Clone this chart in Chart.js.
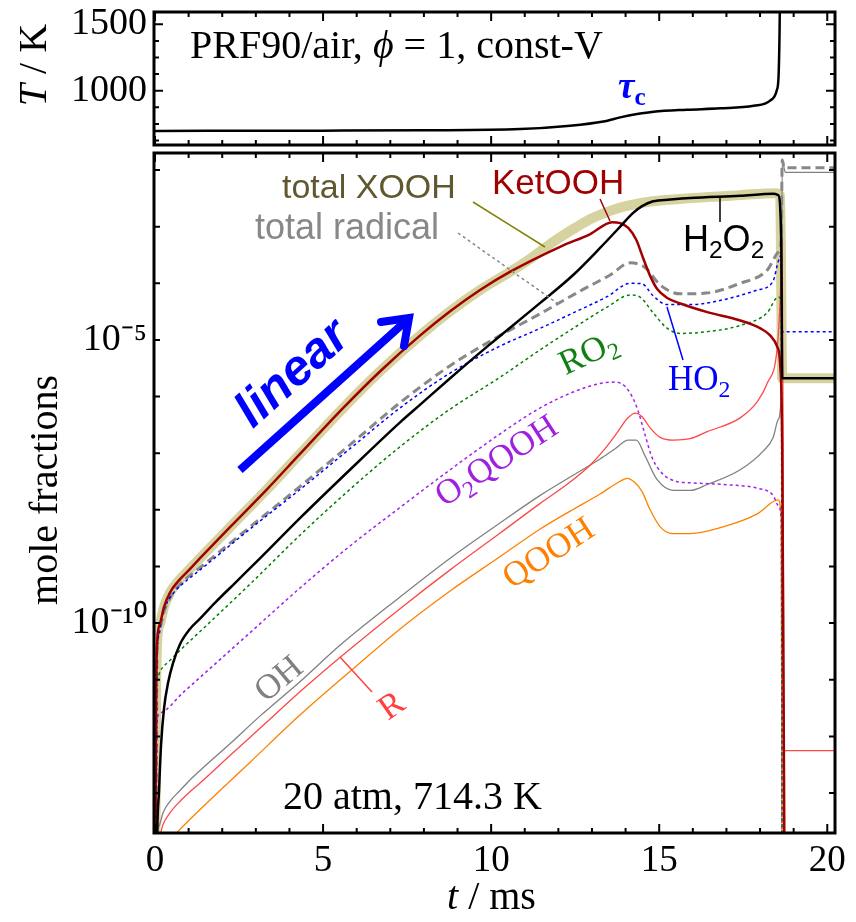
<!DOCTYPE html>
<html>
<head>
<meta charset="utf-8">
<script src="https://cdn.jsdelivr.net/npm/chart.js@4.4.0/dist/chart.umd.min.js"></script>
<style>
  html, body { margin: 0; padding: 0; background: #fff; }
  #wrap { position: relative; width: 856px; height: 922px; overflow: hidden; background: #fff; }
  canvas { position: absolute; left: 0; top: 0; }
  svg { position: absolute; left: 0; top: 0; }
  .lbl { position: absolute; white-space: nowrap; line-height: 1; }
  .serif { font-family: 'Liberation Serif', 'Times New Roman', serif; }
  .sans { font-family: 'Liberation Sans', Arial, sans-serif; }
  .rot { transform: translate(-50%, -50%) rotate(var(--a)); }
  sub { font-size: 0.68em; vertical-align: -0.28em; line-height: 0; }
</style>
</head>
<body>
<div id="wrap">
  <canvas id="top" width="856" height="150"></canvas>
  <canvas id="main" width="856" height="922"></canvas>

  <svg width="856" height="922">
    <line x1="473" y1="202" x2="545" y2="247" stroke="#808000" stroke-width="1.5"/>
    <line x1="458" y1="233" x2="557" y2="303" stroke="#888" stroke-width="1.5" stroke-dasharray="3,3"/>
    <line x1="600" y1="199" x2="610" y2="221" stroke="#a00000" stroke-width="1.5"/>
    <line x1="720" y1="197" x2="720" y2="222" stroke="#000" stroke-width="1.5"/>
    <line x1="667" y1="307" x2="683" y2="360" stroke="#0000ff" stroke-width="1.5"/>
    <line x1="340" y1="657" x2="372" y2="692" stroke="#ff4040" stroke-width="1.5"/>
    <line x1="240" y1="470" x2="406" y2="321" stroke="#0000ff" stroke-width="8"/>
    <polyline points="381,322 409,318 404,346" fill="none" stroke="#0000ff" stroke-width="8" stroke-linecap="round"/>
  </svg>

  <div class="lbl serif" style="left:190px;top:25px;font-size:40px;">PRF90/air, <i>ϕ</i> = 1, const-V</div>
  <div class="lbl serif" style="left:618px;top:67px;font-size:37px;color:#0000ff;font-weight:bold;"><i>τ</i><sub style="font-style:normal">c</sub></div>
  <div class="lbl serif rot" style="left:33px;top:65px;font-size:40px;--a:-90deg;"><i>T</i> / K</div>
  <div class="lbl serif rot" style="left:44px;top:490px;font-size:40px;--a:-90deg;">mole fractions</div>
  <div class="lbl serif" style="left:447px;top:876px;font-size:40px;"><i>t</i> / ms</div>
  <div class="lbl serif" style="left:283px;top:776px;font-size:40px;">20 atm, 714.3 K</div>

  <div class="lbl sans" style="left:282px;top:169px;font-size:34px;color:#61582f;">total XOOH</div>
  <div class="lbl sans" style="left:492px;top:164px;font-size:35px;color:#a00000;">KetOOH</div>
  <div class="lbl sans" style="left:255px;top:209px;font-size:36px;color:#888;">total radical</div>
  <div class="lbl sans" style="left:683px;top:221px;font-size:36px;color:#000;">H<sub>2</sub>O<sub>2</sub></div>
  <div class="lbl sans rot" style="left:291px;top:372px;font-size:50px;color:#0000ff;font-weight:bold;font-style:italic;--a:-42deg;">linear</div>

  <div class="lbl serif" style="left:668px;top:361px;font-size:35px;color:#0000ff;">HO<sub>2</sub></div>
  <div class="lbl serif rot" style="left:588px;top:352px;font-size:35px;color:#108010;--a:-25deg;">RO<sub>2</sub></div>
  <div class="lbl serif rot" style="left:496px;top:460px;font-size:35px;color:#a020e0;--a:-33deg;">O<sub>2</sub>QOOH</div>
  <div class="lbl serif rot" style="left:548px;top:552px;font-size:35px;color:#ff7f00;--a:-33deg;">QOOH</div>
  <div class="lbl serif rot" style="left:278px;top:678px;font-size:35px;color:#808080;--a:-40deg;">OH</div>
  <div class="lbl serif rot" style="left:391px;top:705px;font-size:35px;color:#ff4040;--a:-35deg;">R</div>
</div>

<script>
// temperature, top panel
const tempT = [0, 5, 8, 10.86, 12.35, 13.34, 13.84, 14.34, 14.83, 15.82, 16.82, 17.81, 18.3, 18.5, 18.55, 18.58, 18.6, 18.65, 20.3];
const tempK = [697, 699, 702, 711, 736, 768, 799, 824, 842, 857, 867, 887, 925, 1005, 1105, 1432, 1900, 2400, 2500];

// mole fractions, bottom panel (t in ms)
const xoohT = [0, 0.03, 0.06, 0.15, 0.27, 0.45, 0.68, 0.98, 1.34, 2.32, 3.33, 4.32, 5.6, 6.7, 7.89, 8.78, 9.67, 10.57, 11.16, 11.85, 12.5, 13.0, 13.54, 14.0, 14.8, 16.0, 17.4, 18.45, 18.6, 18.66, 20.3];
const xoohY = [1e-16, 3e-12, 4.2e-11, 9.8e-11, 1.95e-10, 3.5e-10, 5.4e-10, 8.3e-10, 1.4e-9, 5.6e-9, 2.3e-8, 9.8e-8, 6.3e-7, 2.8e-6, 1.2e-5, 3.2e-5, 7.6e-5, 1.6e-4, 2.7e-4, 5.4e-4, 9.5e-4, 1.4e-3, 1.9e-3, 2.3e-3, 2.8e-3, 3.2e-3, 3.6e-3, 3.9e-3, 3.5e-3, 2.1e-6, 2.1e-6];

const ketT = [0, 0.03, 0.06, 0.15, 0.27, 0.45, 0.68, 0.98, 1.34, 2.32, 3.33, 4.32, 5.6, 6.7, 7.89, 8.78, 9.67, 10.57, 12.05, 12.95, 13.6, 13.84, 14.08, 14.32, 14.52, 14.73, 14.94, 15.24, 15.63, 16.43, 17.41, 18.01, 18.3, 18.51, 18.6, 18.66, 18.74];
const ketY = [1e-16, 3e-12, 4.2e-11, 9.8e-11, 1.95e-10, 3.5e-10, 5.4e-10, 8.3e-10, 1.4e-9, 5.6e-9, 2.3e-8, 9.8e-8, 6.3e-7, 2.8e-6, 1.2e-5, 3.2e-5, 7.6e-5, 1.6e-4, 4.4e-4, 7.4e-4, 1.2e-3, 1.15e-3, 9.5e-4, 5.8e-4, 2.8e-4, 1.35e-4, 7.9e-5, 5.5e-5, 4.4e-5, 3.1e-5, 2.2e-5, 1.6e-5, 1.2e-5, 7.6e-6, 3.6e-6, 1.1e-7, 1e-16];

const h2o2T = [0.03, 0.06, 0.12, 0.18, 0.27, 0.39, 0.54, 0.74, 1.04, 1.34, 1.79, 2.38, 3.13, 4.32, 5.8, 7.29, 7.89, 8.78, 9.88, 11.46, 12.44, 13.24, 13.84, 14.2, 14.49, 14.82, 15.33, 15.92, 17.41, 18.39, 18.54, 18.63, 18.66, 20.3];
const h2o2Y = [1e-16, 1.2e-14, 1.1e-13, 7.1e-13, 3.2e-12, 8.9e-12, 2.0e-11, 4.2e-11, 7.9e-11, 1.2e-10, 2.3e-10, 5.1e-10, 1.4e-9, 7.2e-9, 5.1e-8, 3.5e-7, 7.2e-7, 2.1e-6, 7.6e-6, 4.5e-5, 1.4e-4, 4.2e-4, 1.0e-3, 1.7e-3, 2.3e-3, 2.8e-3, 3.0e-3, 3.2e-3, 3.5e-3, 3.8e-3, 3.6e-3, 5.8e-4, 2.1e-6, 2.1e-6];

const radT = [0.02, 0.06, 0.15, 0.27, 0.45, 0.74, 1.34, 2.83, 4.32, 5.8, 7.29, 8.78, 10.27, 11.46, 12.65, 13.54, 14.14, 14.58, 15.03, 15.63, 16.4, 17.41, 18.21, 18.54, 18.63, 18.66, 18.72, 20.3];
const radY = [1e-16, 3.4e-11, 8.7e-11, 1.6e-10, 2.8e-10, 4.8e-10, 9.5e-10, 5.0e-9, 2.6e-8, 1.4e-7, 7.8e-7, 3.5e-6, 1.2e-5, 2.9e-5, 7.3e-5, 1.4e-4, 2.3e-4, 1.9e-4, 9.3e-5, 6.5e-5, 6.7e-5, 1.0e-4, 1.7e-4, 3.5e-4, 5.8e-4, 1.5e-2, 1.1e-2, 1.1e-2];

const ho2T = [0.02, 0.06, 0.12, 0.21, 0.36, 0.6, 0.95, 1.34, 2.83, 4.32, 5.8, 7.29, 8.78, 10.27, 11.46, 12.44, 13.45, 14.14, 14.49, 14.82, 15.24, 15.92, 16.9, 17.92, 18.39, 18.54, 18.63, 18.66, 20.3];
const ho2Y = [1e-16, 2.2e-11, 6.2e-11, 1.3e-10, 2.3e-10, 3.7e-10, 5.7e-10, 8.7e-10, 4.6e-9, 2.3e-8, 1.2e-7, 6.3e-7, 2.6e-6, 7.8e-6, 1.6e-5, 3.0e-5, 5.8e-5, 1.0e-4, 9.8e-5, 6.0e-5, 4.2e-5, 4.2e-5, 5.1e-5, 7.6e-5, 1.1e-4, 2.4e-4, 3.2e-4, 1.4e-5, 1.4e-5];

const ro2T = [0.0, 0.03, 0.06, 0.15, 0.45, 0.83, 1.34, 2.83, 4.32, 5.8, 7.29, 8.78, 10.27, 11.46, 12.44, 13.45, 14.14, 14.43, 14.82, 15.24, 15.63, 16.43, 17.41, 18.21, 18.54, 18.63, 18.66];
const ro2Y = [1e-16, 6.6e-12, 1.0e-11, 1.4e-11, 2.2e-11, 3.7e-11, 7.1e-11, 4.9e-10, 3.6e-9, 2.3e-8, 1.3e-7, 6.0e-7, 2.2e-6, 6.7e-6, 1.6e-5, 3.8e-5, 6.2e-5, 5.7e-5, 3.0e-5, 1.6e-5, 1.3e-5, 1.4e-5, 1.8e-5, 3.0e-5, 5.7e-5, 5.0e-5, 1e-16];

const o2qoohT = [0.02, 0.06, 0.15, 0.83, 1.34, 2.83, 4.32, 5.8, 7.29, 8.78, 10.27, 11.46, 12.44, 13.24, 13.69, 13.99, 14.2, 14.38, 14.58, 14.79, 15.09, 15.48, 15.92, 16.9, 17.92, 18.39, 18.54, 18.63, 18.66];
const o2qoohY = [1e-16, 1.8e-12, 2.6e-12, 5.9e-12, 1.1e-11, 6.8e-11, 4.2e-10, 2.3e-9, 1.1e-8, 5.1e-8, 2.2e-7, 6.3e-7, 1.2e-6, 1.7e-6, 1.8e-6, 1.5e-6, 9.8e-7, 5.4e-7, 2.1e-7, 8.3e-8, 4.4e-8, 3.2e-8, 3.0e-8, 2.8e-8, 2.4e-8, 1.8e-8, 1.2e-8, 6.6e-9, 1e-16];

const ohT = [0.03, 0.06, 0.12, 0.24, 0.45, 0.74, 1.04, 1.34, 2.23, 3.13, 4.32, 5.51, 7.29, 8.78, 10.27, 11.46, 12.35, 13.24, 13.69, 14.08, 14.32, 14.58, 14.94, 15.42, 15.92, 16.43, 17.41, 18.1, 18.39, 18.54, 18.63, 18.66, 18.75, 20.3];
const ohY = [1e-16, 1.5e-14, 2.6e-14, 4.5e-14, 7.2e-14, 1.1e-13, 1.7e-13, 2.5e-13, 7.4e-13, 2.3e-12, 9.3e-12, 4.1e-11, 2.9e-10, 1.4e-9, 5.9e-9, 1.8e-8, 3.8e-8, 7.9e-8, 1.2e-7, 1.7e-7, 1.7e-7, 8.9e-8, 3.4e-8, 2.2e-8, 2.2e-8, 2.8e-8, 5.1e-8, 1.1e-7, 1.9e-7, 3.9e-7, 1.1e-6, 1.5e-2, 9.1e-3, 9.1e-3];

const rT = [0.03, 0.06, 0.12, 0.24, 0.45, 0.74, 1.04, 1.34, 2.23, 3.13, 4.32, 5.51, 7.29, 8.78, 10.27, 11.46, 12.35, 12.95, 13.39, 13.75, 14.05, 14.29, 14.49, 14.73, 15.03, 15.42, 15.92, 16.43, 17.41, 17.92, 18.21, 18.51, 18.6, 18.66, 18.72, 20.3];
const rY = [1e-16, 1.0e-14, 1.6e-14, 2.8e-14, 4.5e-14, 7.1e-14, 1.05e-13, 1.5e-13, 4.6e-13, 1.4e-12, 6.2e-12, 2.5e-11, 1.8e-10, 8.7e-10, 3.9e-9, 1.3e-8, 3.1e-8, 6.2e-8, 1.2e-7, 2.3e-7, 4.1e-7, 5.1e-7, 4.4e-7, 2.8e-7, 1.9e-7, 1.7e-7, 1.8e-7, 2.4e-7, 4.2e-7, 8.1e-7, 1.7e-6, 7.2e-6, 5.1e-5, 5.8e-4, 5.6e-13, 5.6e-13];

const qoohT = [0.2, 0.45, 0.65, 1.34, 2.83, 4.32, 5.8, 7.29, 8.78, 10.27, 11.46, 12.35, 13.24, 13.84, 14.05, 14.26, 14.49, 14.73, 15.03, 15.39, 15.92, 16.9, 17.92, 18.54, 18.63, 18.66];
const qoohY = [1.1e-14, 1.5e-14, 2.0e-14, 5.1e-14, 3.5e-13, 2.4e-12, 1.4e-11, 7.9e-11, 3.7e-10, 1.5e-9, 4.6e-9, 9.5e-9, 1.9e-8, 3.2e-8, 3.6e-8, 3.1e-8, 2.1e-8, 1.0e-8, 5.0e-9, 3.8e-9, 3.8e-9, 5.0e-9, 8.5e-9, 1.5e-8, 6.6e-9, 1e-16];

// axis ticks
const xMajor = [0, 5, 10, 15, 20];
const xMinor = [1, 2, 3, 4, 6, 7, 8, 9, 11, 12, 13, 14, 16, 17, 18, 19];
const tempLabels = [1000, 1500];
const tempMinor = [625, 750, 875, 1125, 1250, 1375];
const decades = [-13, -12, -11, -10, -9, -8, -7, -6, -5, -4, -3, -2];
const decadeLabels = {'-5': '10⁻⁵', '-10': '10⁻¹⁰'};

const pts = (ts, ys) => ts.map((t, i) => ({x: t, y: ys[i]}));

// frame + inward ticks on all four sides
const frameTicks = {
  id: 'frameTicks',
  afterDatasetsDraw(chart, args, o) {
    const {ctx, chartArea: a, scales} = chart;
    ctx.save();
    ctx.strokeStyle = '#000';
    ctx.lineWidth = 2;
    ctx.beginPath();
    const xt = (vals, len) => vals.forEach(v => {
      const px = scales.x.getPixelForValue(v);
      ctx.moveTo(px, a.bottom); ctx.lineTo(px, a.bottom - len);
      ctx.moveTo(px, a.top); ctx.lineTo(px, a.top + len);
    });
    const yt = (vals, len) => vals.forEach(v => {
      const py = scales.y.getPixelForValue(v);
      ctx.moveTo(a.left, py); ctx.lineTo(a.left + len, py);
      ctx.moveTo(a.right, py); ctx.lineTo(a.right - len, py);
    });
    xt(xMajor, 9);
    xt(xMinor, 5);
    yt(o.yMajor, o.majorLen);
    yt(o.yMinor, 5);
    ctx.stroke();
    ctx.lineWidth = 3;
    ctx.strokeRect(a.left, a.top, a.width, a.height);
    ctx.restore();
  }
};

const serif = size => ({family: "'Liberation Serif', 'Times New Roman', serif", size});

const xScale = (showLabels, h) => ({
  type: 'linear',
  min: -0.03,
  max: 20.23,
  afterBuildTicks: s => { s.ticks = xMajor.map(v => ({value: v})); },
  afterFit: s => { s.height = h; s.paddingLeft = 0; s.paddingRight = 0; },
  grid: {display: false, drawTicks: false},
  border: {display: false},
  ticks: {display: showLabels, color: '#000', font: serif(37), padding: 6, autoSkip: false, maxRotation: 0}
});

const yFit = s => { s.width = 154; s.paddingTop = 0; s.paddingBottom = 0; };

// top panel: temperature
new Chart(document.getElementById('top'), {
  type: 'line',
  data: {
    datasets: [{
      data: pts(tempT, tempK),
      borderColor: '#000',
      borderWidth: 2.5,
      pointRadius: 0,
      cubicInterpolationMode: 'monotone'
    }]
  },
  options: {
    responsive: false,
    animation: false,
    events: [],
    layout: {padding: {top: 12, right: 21, left: 0, bottom: 0}},
    plugins: {
      legend: {display: false},
      tooltip: {enabled: false},
      frameTicks: {yMajor: tempLabels, yMinor: tempMinor, majorLen: 9}
    },
    scales: {
      x: xScale(false, 5),
      y: {
        type: 'linear',
        min: 591,
        max: 1593,
        afterBuildTicks: s => { s.ticks = tempLabels.map(v => ({value: v})); },
        afterFit: yFit,
        grid: {display: false, drawTicks: false},
        border: {display: false},
        ticks: {color: '#000', font: serif(38), padding: 7, autoSkip: false, callback: v => String(v)}
      }
    }
  },
  plugins: [frameTicks]
});

// bottom panel: mole fractions
const line = (ts, ys, color, width, dash) => ({
  data: pts(ts, ys),
  borderColor: color,
  borderWidth: width,
  borderDash: dash || [],
  pointRadius: 0,
  fill: false,
  cubicInterpolationMode: 'monotone'
});

new Chart(document.getElementById('main'), {
  type: 'line',
  data: {
    datasets: [
      line(h2o2T, h2o2Y, '#000000', 2.5),
      line(ketT, ketY, '#a00000', 2.5),
      line(ho2T, ho2Y, '#0000ff', 1.5, [3, 3]),
      line(ro2T, ro2Y, '#008000', 1.5, [3, 3]),
      line(o2qoohT, o2qoohY, '#a020f0', 1.5, [3, 3]),
      line(radT, radY, '#888888', 3, [9, 5]),
      line(rT, rY, '#ff4848', 1.3),
      line(ohT, ohY, '#808080', 1.3),
      line(qoohT, qoohY, '#ff8000', 1.3),
      line(xoohT, xoohY, '#d6d3a0', 10)
    ]
  },
  options: {
    responsive: false,
    animation: false,
    events: [],
    layout: {padding: {top: 153, right: 21, left: 0, bottom: 0}},
    plugins: {
      legend: {display: false},
      tooltip: {enabled: false},
      frameTicks: {yMajor: decades.map(e => Math.pow(10, e)), yMinor: [], majorLen: 6}
    },
    scales: {
      x: xScale(true, 89),
      y: {
        type: 'logarithmic',
        min: Math.pow(10, -13.706),
        max: Math.pow(10, -1.70),
        afterBuildTicks: s => { s.ticks = decades.map(e => ({value: Math.pow(10, e)})); },
        afterFit: yFit,
        grid: {display: false, drawTicks: false},
        border: {display: false},
        ticks: {
          color: '#000',
          font: serif(38),
          padding: 7,
          autoSkip: false,
          callback: v => decadeLabels[String(Math.round(Math.log10(v)))] || ''
        }
      }
    }
  },
  plugins: [frameTicks]
});
</script>
</body>
</html>
